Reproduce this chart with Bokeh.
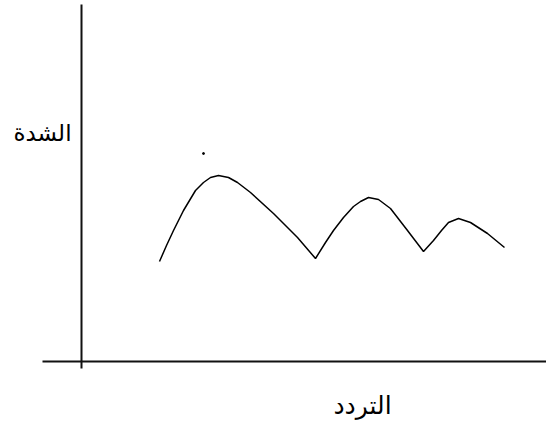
from bokeh.plotting import figure
from bokeh.models import Range1d
from bokeh.core.properties import value
from bokeh.embed import file_html
from bokeh.resources import INLINE

# Curve: frequency vs intensity (arbitrary units)
freq = [78, 85, 92, 102, 114, 122, 129, 137, 147, 156, 169, 192, 216, 234,
        244, 252, 262, 272, 279, 287, 297, 309, 326, 342,
        352, 360, 367, 377, 389, 406, 423]
intensity = [100, 116, 131, 151, 171, 179, 184, 186, 184, 179, 169, 148, 124, 103,
             119, 131, 144, 155, 160, 164, 162, 153, 131, 110,
             121, 131, 139, 143, 139, 128, 114]

dot_freq = [122]
dot_intensity = [208]

y_label = ["الشدة"]
x_label = ["التردد"]

W, H = 546, 433
p = figure(width=W, height=H, output_backend="svg", toolbar_location=None,
           x_range=Range1d(-81, 465), y_range=Range1d(-72, 361),
           min_border=0)
p.xaxis.visible = False
p.yaxis.visible = False
p.grid.visible = False
p.outline_line_color = None
p.background_fill_color = "white"
p.border_fill_color = "white"

# axes drawn as lines
p.segment(x0=[0], y0=[-7], x1=[0], y1=[357], line_color="#111111", line_width=2)
p.segment(x0=[-39], y0=[0], x1=[470], y1=[0], line_color="#111111", line_width=2)

p.line(freq, intensity, line_color="black", line_width=1.5)
p.scatter(dot_freq, dot_intensity, size=2, color="black")

p.text(x=[-39], y=[229], text=y_label, text_align="center", text_baseline="middle",
       text_font=value("DejaVu Sans"), text_font_size="23px", text_color="black")
p.text(x=[281], y=[-44], text=x_label, text_align="center", text_baseline="middle",
       text_font=value("DejaVu Sans"), text_font_size="25px", text_color="black")

open("out.html", "w").write(file_html(p, INLINE))
